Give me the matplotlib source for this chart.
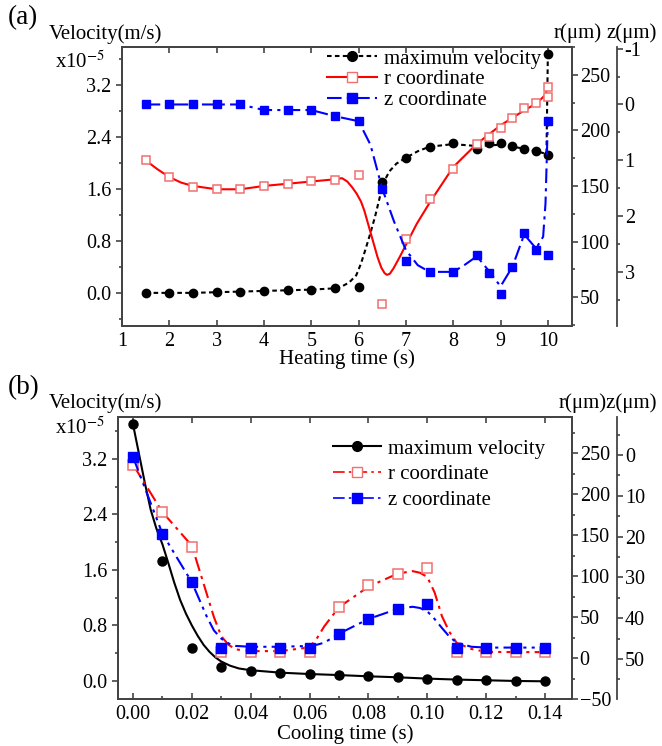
import matplotlib
matplotlib.use("Agg")
import matplotlib.pyplot as plt
from matplotlib.lines import Line2D
from matplotlib.ticker import MultipleLocator, FormatStrFormatter

plt.rcParams['font.family'] = ['Liberation Serif', 'DejaVu Serif']
plt.rcParams['mathtext.fontset'] = 'stix'

W, H = 662, 746

# ---- (a) heating: markers ----
heat_t = [1.5, 2, 2.5, 3, 3.5, 4, 4.5, 5, 5.5, 6, 6.5, 7, 7.5, 8, 8.5, 8.75, 9, 9.25, 9.5, 9.75, 10, 10]
heat_vel = [0.0, 0.0, 0.0, 0.01, 0.02, 0.03, 0.04, 0.05, 0.07, 0.09, 1.71, 2.08, 2.25, 2.30, 2.21, 2.31, 2.31, 2.26, 2.21, 2.18, 2.13, 3.68]
heat_r = [173, 158, 149, 147, 147, 150, 152, 154, 155, 160, 44, 102, 138, 165, 188, 194, 202, 211, 220, 225, 230, 239]
heat_z = [0, 0, 0, 0, 0, 0.1, 0.1, 0.1, 0.21, 0.3, 1.51, 2.8, 3.0, 3.0, 2.7, 3.02, 3.4, 2.91, 2.3, 2.61, 2.7, 0.29]

# ---- (a) heating: fitted curves ----
heat_vel_ct = [1.5, 2, 2.5, 3, 3.5, 4, 4.5, 5, 5.5, 5.65, 5.8, 5.95, 6.05, 6.15, 6.25, 6.35, 6.45, 6.55, 6.65, 6.8, 7.0, 7.25, 7.5, 8.0, 8.5, 9.0, 9.5, 9.75, 9.97, 10.0]
heat_vel_cv = [0.0, 0.0, 0.0, 0.01, 0.02, 0.03, 0.04, 0.05, 0.07, 0.10, 0.16, 0.27, 0.45, 0.68, 0.92, 1.18, 1.48, 1.73, 1.87, 1.99, 2.08, 2.18, 2.25, 2.29, 2.26, 2.28, 2.22, 2.18, 2.14, 3.68]
heat_r_ct = [1.5, 1.75, 2.0, 2.25, 2.5, 3.0, 3.5, 4.0, 4.5, 5.0, 5.5, 5.65, 5.76, 5.86, 5.96, 6.05, 6.12, 6.18, 6.24, 6.32, 6.4, 6.48, 6.55, 6.6, 6.66, 6.74, 6.88, 7.0, 7.23, 7.51, 7.72, 8.0, 8.5, 9.0, 9.5, 9.75, 9.94, 10.0]
heat_r_cv = [173, 165, 158, 153, 150, 147, 147, 150, 152, 154, 156, 157, 154, 149, 143, 136, 128, 119, 110, 98, 86, 76.5, 71.5, 70, 71, 76, 87, 97, 116, 135.5, 149, 167, 188, 204.5, 218, 224, 231.5, 239]
heat_z_ct = [1.5, 2, 2.5, 3, 3.5, 3.75, 4, 4.5, 5, 5.5, 6, 6.25, 6.5, 6.75, 7.0, 7.25, 7.5, 8.0, 8.25, 8.5, 8.75, 9.0, 9.25, 9.5, 9.75, 9.9, 9.95, 10.0]
heat_z_cv = [0, 0, 0, 0, 0, 0.05, 0.1, 0.1, 0.1, 0.21, 0.3, 0.72, 1.51, 2.1, 2.61, 2.88, 3.0, 3.0, 2.87, 2.72, 2.98, 3.26, 2.91, 2.33, 2.58, 2.37, 1.77, 0.29]

# ---- (b) cooling: markers ----
cool_t = [0.0, 0.01, 0.02, 0.03, 0.04, 0.05, 0.06, 0.07, 0.08, 0.09, 0.10, 0.11, 0.12, 0.13, 0.14]
cool_vel = [3.70, 1.73, 0.475, 0.20, 0.14, 0.115, 0.096, 0.082, 0.067, 0.053, 0.034, 0.02, 0.01, 0.0, -0.005]
cool_r = [236, 178, 135, 7, 7, 7, 7, 62, 89, 103, 110, 7, 7, 7, 7]
cool_z = [0.5, 19.3, 31.2, 47.4, 47.4, 47.4, 47.2, 43.8, 40.2, 37.7, 36.5, 47.2, 47.2, 47.2, 47.2]

# ---- (b) cooling: fitted curves ----
cool_vel_ct = [0, 0.002, 0.004, 0.006, 0.008, 0.01, 0.012, 0.014, 0.016, 0.018, 0.02, 0.022, 0.024, 0.026, 0.028, 0.03, 0.033, 0.036, 0.04, 0.05, 0.06, 0.07, 0.08, 0.09, 0.10, 0.11, 0.12, 0.13, 0.14]
cool_vel_cv = [3.70, 3.28, 2.86, 2.47, 2.19, 1.97, 1.70, 1.42, 1.17, 0.97, 0.80, 0.65, 0.52, 0.42, 0.34, 0.28, 0.22, 0.18, 0.155, 0.12, 0.10, 0.085, 0.067, 0.053, 0.034, 0.02, 0.01, 0.0, -0.005]
cool_rz_ct = [0, 0.01, 0.02, 0.025, 0.0275, 0.03, 0.0325, 0.035, 0.04, 0.05, 0.06, 0.0625, 0.065, 0.07, 0.08, 0.09, 0.095, 0.0975, 0.10, 0.1025, 0.105, 0.1075, 0.11, 0.115, 0.12, 0.13, 0.14]
cool_r_cv = [236, 178, 137, 79, 50, 26.5, 16, 10.5, 8.4, 8.4, 13, 24, 38.6, 62, 87, 103, 106, 104, 99, 80, 51, 32, 18.5, 11, 7.5, 7.2, 7.2]
cool_z_cv = [0.5, 19.3, 31.2, 39.5, 43, 45, 46.2, 46.8, 47, 47, 46.8, 46.5, 46, 43.8, 40.2, 37.7, 37.2, 37.5, 38.3, 40.2, 42.4, 44.5, 46, 47, 47.2, 47.2, 47.2]

labels = ['maximum velocity', 'r coordinate', 'z coordinate']
RED_MK = '#f07070'
SPINE = '#444444'
FS = 14.5


def fx(px):
    return px / W


def fy(py):
    return 1 - py / H


def style_axis(ax, which):
    for s in ax.spines.values():
        s.set_color(SPINE)
        s.set_linewidth(1.3)
    ax.tick_params(axis=which, which='both', direction='out', colors=SPINE,
                   labelcolor='black', labelsize=FS, width=1.2)
    ax.tick_params(axis=which, which='major', length=4.5)
    ax.tick_params(axis=which, which='minor', length=2.5)


def make_panel(rect, xlim, vlim, rlim, zlim, xmaj, xmin_, rmaj, zmaj, zmin_, xfmt):
    ax = fig.add_axes(rect)
    axr = ax.twinx()
    axz = ax.twinx()
    axz.spines['right'].set_position(('axes', 1.1))
    for a in (ax, axr, axz):
        a.set_xlim(*xlim)
    ax.set_ylim(*vlim)
    axr.set_ylim(*rlim)
    axz.set_ylim(*zlim)

    style_axis(ax, 'y')
    style_axis(axr, 'y')
    style_axis(axz, 'y')
    ax.tick_params(axis='y', pad=3)
    axr.tick_params(axis='y', pad=1)
    axz.tick_params(axis='y', pad=1)

    ax.xaxis.set_major_locator(MultipleLocator(xmaj))
    if xmin_:
        ax.xaxis.set_minor_locator(MultipleLocator(xmin_))
    ax.xaxis.set_major_formatter(FormatStrFormatter(xfmt))
    ax.tick_params(axis='x', which='both', direction='in', top=True, colors=SPINE,
                   labelcolor='black', labelsize=FS, width=1.2, pad=4)
    ax.tick_params(axis='x', which='major', length=4.5)
    ax.tick_params(axis='x', which='minor', length=2.5, top=False)

    ax.yaxis.set_major_locator(MultipleLocator(0.8))
    ax.yaxis.set_minor_locator(MultipleLocator(0.4))
    ax.yaxis.set_major_formatter(FormatStrFormatter('%.1f'))
    axr.yaxis.set_major_locator(MultipleLocator(rmaj))
    axr.yaxis.set_minor_locator(MultipleLocator(rmaj / 2))
    axz.yaxis.set_major_locator(MultipleLocator(zmaj))
    axz.yaxis.set_minor_locator(MultipleLocator(zmin_))
    axz.yaxis.set_major_formatter(FormatStrFormatter('%g'))
    return ax, axr, axz


fig = plt.figure(figsize=(W / 100, H / 100), dpi=100)

# ================= (a) =================
ax, axr, axz = make_panel([fx(122), fy(326), fx(450), (326 - 47) / H],
                          (1, 10.51), (-0.51, 3.785), (24, 275), (3.97, -1.03),
                          1, None, 50, 1, 0.5, '%d')
ax.set_xticks(range(1, 11))

vel_ls = (0, (2.2, 1.6))
zdd_ls = (0, (7, 2.5, 1.5, 2.5))
ax.plot(heat_vel_ct, heat_vel_cv, color='black', lw=1.5, ls=vel_ls)
ax.plot(heat_t, heat_vel, 'o', color='black', ms=6, ls='none')
axr.plot(heat_r_ct, heat_r_cv, color='red', lw=1.5)
axr.plot(heat_t, heat_r, 's', mfc='white', mec=RED_MK, mew=1.1, ms=6, ls='none')
axz.plot(heat_z_ct, heat_z_cv, color='#0000ff', lw=1.5, ls=zdd_ls)
axz.plot(heat_t, heat_z, 's', color='#0000ff', ms=6, ls='none')

hnd_a = [Line2D([], [], color='black', lw=1.5, ls=vel_ls, marker='o', ms=7),
         Line2D([], [], color='red', lw=1.5, marker='s', mfc='white', mec=RED_MK, ms=7),
         Line2D([], [], color='#0000ff', lw=1.5, ls=zdd_ls, marker='s', ms=7)]
fig.legend(hnd_a, labels, loc='upper left', bbox_to_anchor=(fx(327), fy(49)),
           frameon=False, fontsize=15, handlelength=2.4, handletextpad=0.35,
           labelspacing=0.05, borderpad=0, borderaxespad=0)

fig.text(fx(347), fy(359), 'Heating time (s)', ha='center', va='center', fontsize=15)
fig.text(fx(8), fy(18), '(a)', ha='left', va='center', fontsize=19.5)
fig.text(fx(49), fy(34), 'Velocity(m/s)', ha='left', va='center', fontsize=15)
fig.text(fx(55), fy(62), r'x10$^{-5}$', ha='left', va='center', fontsize=15)
fig.text(fx(578), fy(33), 'r(μm)', ha='center', va='center', fontsize=15)
fig.text(fx(632), fy(33), 'z(μm)', ha='center', va='center', fontsize=15)

# ================= (b) =================
bx, bxr, bxz = make_panel([fx(118), fy(699), fx(454), (699 - 417) / H],
                          (-0.0051, 0.1492), (-0.26, 3.805), (-50, 294), (59.8, -9.3),
                          0.02, 0.01, 50, 10, 5, '%.2f')

dd_ls = (0, (7, 2.5, 1.5, 2.5))
ddd_ls = (0, (7, 2.5, 1.5, 2.5, 1.5, 2.5))
bx.plot(cool_vel_ct, cool_vel_cv, color='black', lw=1.5)
bx.plot(cool_t, cool_vel, 'o', color='black', ms=6.5, ls='none')
bxr.plot(cool_rz_ct, cool_r_cv, color='red', lw=1.5, ls=dd_ls)
bxr.plot(cool_t, cool_r, 's', mfc='white', mec=RED_MK, mew=1.1, ms=6.5, ls='none')
bxz.plot(cool_rz_ct, cool_z_cv, color='#0000ff', lw=1.5, ls=ddd_ls)
bxz.plot(cool_t, cool_z, 's', color='#0000ff', ms=6.5, ls='none')

hnd_b = [Line2D([], [], color='black', lw=1.5, marker='o', ms=7),
         Line2D([], [], color='red', lw=1.2, ls=dd_ls, marker='s', mfc='white', mec=RED_MK, ms=7),
         Line2D([], [], color='#0000ff', lw=1.2, ls=ddd_ls, marker='s', ms=7)]
fig.legend(hnd_b, labels, loc='upper left', bbox_to_anchor=(fx(333), fy(439)),
           frameon=False, fontsize=15, handlelength=2.3, handletextpad=0.35,
           labelspacing=0.3, borderpad=0, borderaxespad=0)

fig.text(fx(345), fy(734), 'Cooling time (s)', ha='center', va='center', fontsize=15)
fig.text(fx(8), fy(388), '(b)', ha='left', va='center', fontsize=19.5)
fig.text(fx(49), fy(403), 'Velocity(m/s)', ha='left', va='center', fontsize=15)
fig.text(fx(55), fy(428), r'x10$^{-5}$', ha='left', va='center', fontsize=15)
fig.text(fx(608), fy(403), 'r(μm)z(μm)', ha='center', va='center', fontsize=15)

fig.savefig('out.png', dpi=100)
